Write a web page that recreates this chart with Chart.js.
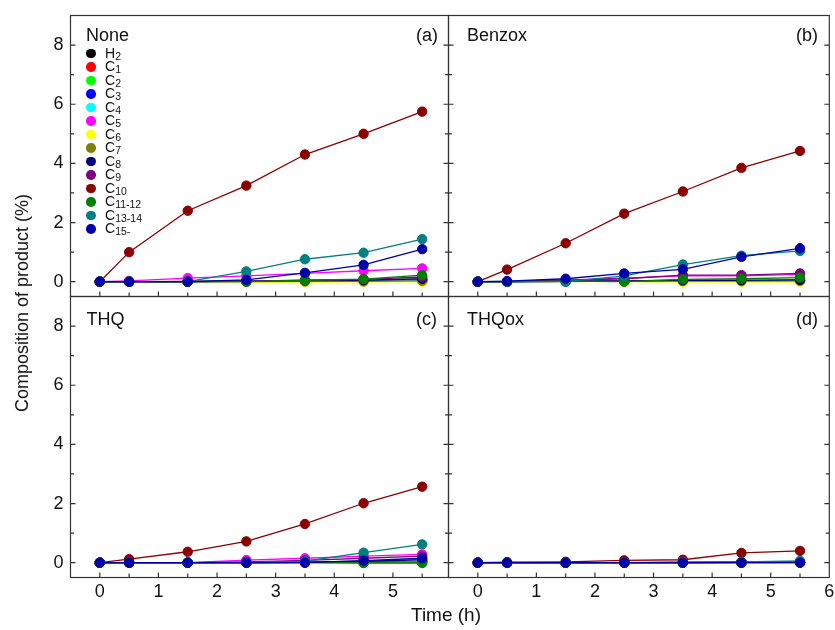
<!DOCTYPE html>
<html>
<head>
<meta charset="utf-8">
<script src="https://cdn.jsdelivr.net/npm/chart.js@4.4.0/dist/chart.umd.min.js"></script>
<style>
  body { margin: 0; background: #fff; }
  #wrap { position: relative; width: 835px; height: 630px; font-family: 'Liberation Sans', Arial, sans-serif; color: #111; }
  #wrap canvas { position: absolute; left: 0; top: 0; }
  .txt { position: absolute; line-height: 1; white-space: nowrap; }
  .lbl { font-size: 18px; transform: translateY(-50%); }
  .lblR { font-size: 18px; transform: translate(-100%, -50%); }
  #legend { position: absolute; left: 86px; top: 46.5px; font-size: 14px; }
  #legend div { height: 13.5px; line-height: 13.5px; position: relative; padding-left: 19px; }
  #legend span.dot { position: absolute; left: 0px; top: 2px; width: 9.5px; height: 9.5px; border-radius: 50%; }
  #legend sub { font-size: 10.5px; vertical-align: -2px; line-height: 0; }
</style>
</head>
<body>
<div id="wrap">
  <canvas id="pA" width="835" height="630"></canvas>
  <canvas id="pB" width="835" height="630"></canvas>
  <canvas id="pC" width="835" height="630"></canvas>
  <canvas id="pD" width="835" height="630"></canvas>

  <div class="txt lbl" style="left:86px; top:34.5px;">None</div>
  <div class="txt lblR" style="left:438px; top:34.5px;">(a)</div>
  <div class="txt lbl" style="left:467px; top:34.5px;">Benzox</div>
  <div class="txt lblR" style="left:818px; top:34.5px;">(b)</div>
  <div class="txt lbl" style="left:86.5px; top:318.5px;">THQ</div>
  <div class="txt lblR" style="left:437px; top:318.5px;">(c)</div>
  <div class="txt lbl" style="left:467px; top:318.5px;">THQox</div>
  <div class="txt lblR" style="left:818px; top:318.5px;">(d)</div>

  <div class="txt" style="left:22px; top:303px; font-size:18px; transform: translate(-50%,-50%) rotate(-90deg);">Composition of product (%)</div>
  <div class="txt" style="left:446px; top:614px; font-size:19px; transform: translate(-50%,-50%);">Time (h)</div>

  <div id="legend"></div>
</div>

<script>
// x values (h)
const times = [0, 0.5, 1.5, 2.5, 3.5, 4.5, 5.5];

// series
const seriesNames = ['H2', 'C1', 'C2', 'C3', 'C4', 'C5', 'C6', 'C7', 'C8', 'C9', 'C10', 'C11-12', 'C13-14', 'C15-'];
const seriesLegend = [['H', '2'], ['C', '1'], ['C', '2'], ['C', '3'], ['C', '4'], ['C', '5'], ['C', '6'], ['C', '7'],
                      ['C', '8'], ['C', '9'], ['C', '10'], ['C', '11-12'], ['C', '13-14'], ['C', '15-']];
const seriesColors = ['#000000', '#FF0000', '#00FF00', '#0000FF', '#00FFFF', '#FF00FF', '#FFFF00', '#808000',
                      '#000080', '#800080', '#8B0000', '#008000', '#008080', '#0000A8'];

// tick values
const xTickValues = [-0.5, 0, 0.5, 1, 1.5, 2, 2.5, 3, 3.5, 4, 4.5, 5, 5.5, 6];
const yTickValues = [0, 1, 2, 3, 4, 5, 6, 7, 8];
const yLabelTicks = [0, 2, 4, 6, 8];

// (a) None
const noneData = [
  [0, 0, 0, 0.01, 0.02, 0.03, 0.05],
  [0, 0, 0.01, 0.01, 0.02, 0.02, 0.03],
  [0, 0, 0, 0.01, 0.01, 0.02, 0.03],
  [0, 0, 0, 0.01, 0.02, 0.02, 0.04],
  [0, 0, 0, 0.01, 0.01, 0.02, 0.03],
  [0, 0.03, 0.12, 0.2, 0.28, 0.37, 0.45],
  [0, 0, 0, -0.01, -0.01, -0.01, 0],
  [0, 0, 0, 0, 0.01, 0.01, 0.03],
  [0, 0, 0, 0.02, 0.04, 0.05, 0.1],
  [0, 0, 0, 0.02, 0.05, 0.08, 0.16],
  [0, 1.0, 2.4, 3.25, 4.3, 5.0, 5.75],
  [0, 0, 0, 0, 0.05, 0.09, 0.22],
  [0, 0, 0, 0.35, 0.76, 0.98, 1.44],
  [0, 0, 0, 0.06, 0.3, 0.57, 1.1]
];

// (b) Benzox
const benzoxData = [
  [0, 0, 0.01, 0.02, 0.03, 0.03, 0.05],
  [0, 0, 0.01, 0.02, 0.03, 0.03, 0.04],
  [0, 0, 0.01, 0.01, 0.02, 0.02, 0.03],
  [0, 0, 0.01, 0.02, 0.03, 0.03, 0.04],
  [0, 0, 0.01, 0.02, 0.02, 0.03, 0.04],
  [0, 0, 0.05, 0.12, 0.2, 0.2, 0.25],
  [0, 0, 0, 0, -0.01, -0.01, -0.01],
  [0, 0, 0.01, 0.01, 0.02, 0.02, 0.03],
  [0, 0, 0.02, 0.03, 0.05, 0.05, 0.06],
  [0, 0, 0.05, 0.1, 0.22, 0.22, 0.28],
  [0, 0.41, 1.3, 2.3, 3.05, 3.85, 4.42],
  [0, 0, 0.02, 0, 0.08, 0.1, 0.14],
  [0, 0, 0, 0.2, 0.58, 0.88, 1.04],
  [0, 0.02, 0.1, 0.28, 0.42, 0.84, 1.13]
];

// (c) THQ
const thqData = [
  [0, 0, 0, 0, 0.01, 0.02, 0.03],
  [0, 0, 0, 0, 0.01, 0.01, 0.02],
  [0, 0, 0, 0, 0.01, 0.01, 0.02],
  [0, 0, 0, 0, 0.01, 0.02, 0.03],
  [0, 0, 0, 0, 0.01, 0.01, 0.02],
  [0, 0, 0, 0.09, 0.15, 0.22, 0.28],
  [0, 0, 0, 0, 0, 0, 0],
  [0, 0, 0, 0, 0, 0, 0.01],
  [0, 0, 0, 0, 0.02, 0.05, 0.1],
  [0, 0, 0, 0.03, 0.08, 0.15, 0.22],
  [0, 0.12, 0.37, 0.72, 1.31, 2.01, 2.57],
  [0, 0, 0, 0, 0, -0.01, -0.01],
  [0, 0, 0, 0, 0.05, 0.34, 0.62],
  [0, 0, 0, 0, 0, 0.07, 0.15]
];

// (d) THQox
const thqoxData = [
  [0, 0, 0, 0, 0, 0.01, 0.01],
  [0, 0, 0, 0, 0, 0, 0.01],
  [0, 0, 0, 0, 0, 0, 0],
  [0, 0, 0, 0, 0, 0.01, 0.01],
  [0, 0, 0, 0, 0, 0, 0.01],
  [0, 0, 0, 0, 0.01, 0.02, 0.03],
  [0, 0, 0, 0, 0, 0, 0],
  [0, 0, 0, 0, 0, 0, 0],
  [0, 0, 0, 0, 0, 0.01, 0.01],
  [0, 0, 0, 0, 0.01, 0.02, 0.02],
  [0, 0.02, 0.03, 0.08, 0.1, 0.33, 0.4],
  [0, 0, 0, 0, 0, 0.01, 0.02],
  [0, 0, 0, 0, 0.02, 0.03, 0.06],
  [0, 0, 0, 0, 0, 0, 0]
];

const FONT = "'Liberation Sans', Arial, sans-serif";
const W = 835, H = 630;

// frame + inward ticks (major on labelled values, minor otherwise)
const framePlugin = {
  id: 'frame',
  afterDatasetsDraw(chart) {
    const {ctx, chartArea: a, scales} = chart;
    ctx.save();
    ctx.strokeStyle = '#333';
    ctx.lineWidth = 1.2;
    ctx.beginPath();
    scales.x.ticks.forEach(t => {
      if (t.value <= scales.x.min || t.value >= scales.x.max) return;
      const px = scales.x.getPixelForValue(t.value);
      const len = Number.isInteger(t.value) ? 5 : 4;
      ctx.moveTo(px, a.bottom);
      ctx.lineTo(px, a.bottom - len);
    });
    scales.y.ticks.forEach(t => {
      if (t.value <= scales.y.min || t.value >= scales.y.max) return;
      const py = scales.y.getPixelForValue(t.value);
      const len = yLabelTicks.includes(t.value) ? 5 : 3.5;
      ctx.moveTo(a.left, py);
      ctx.lineTo(a.left + len, py);
      ctx.moveTo(a.right, py);
      ctx.lineTo(a.right - len, py);
    });
    ctx.stroke();
    ctx.strokeRect(a.left, a.top, a.right - a.left, a.bottom - a.top);
    ctx.restore();
  }
};

function makePanel(id, values, area, xMax, showX, showY) {
  const yW = showY ? 40 : 0;
  const xH = showX ? 30 : 0;
  const datasets = values.map((vals, i) => ({
    label: seriesNames[i],
    data: times.map((t, j) => ({x: t, y: vals[j]})),
    borderColor: seriesColors[i],
    backgroundColor: seriesColors[i],
    pointBackgroundColor: seriesColors[i],
    pointBorderColor: seriesColors[i],
    borderWidth: 1.3,
    pointRadius: 4.7,
    pointBorderWidth: 1,
    order: seriesNames.length - i,
    clip: false
  }));

  new Chart(document.getElementById(id), {
    type: 'line',
    data: {datasets},
    plugins: [framePlugin],
    options: {
      responsive: false,
      animation: false,
      events: [],
      layout: {
        padding: {
          left: area.left - yW,
          right: W - area.right,
          top: area.top,
          bottom: H - area.bottom - xH
        }
      },
      plugins: {legend: {display: false}, tooltip: {enabled: false}},
      scales: {
        x: {
          type: 'linear',
          min: -0.5,
          max: xMax,
          afterFit: s => { s.height = xH; s.paddingLeft = 0; s.paddingRight = 0; },
          afterBuildTicks: s => {
            s.ticks = xTickValues.filter(v => v >= s.min && v <= s.max).map(v => ({value: v}));
          },
          grid: {display: false, drawTicks: false},
          border: {display: false},
          ticks: {
            display: showX,
            autoSkip: false,
            maxRotation: 0,
            padding: 4,
            color: '#111',
            font: {family: FONT, size: 18},
            callback: v => Number.isInteger(v) && v >= 0 ? String(v) : ''
          }
        },
        y: {
          type: 'linear',
          min: -0.5,
          max: 9,
          afterFit: s => { s.width = yW; s.paddingTop = 0; s.paddingBottom = 0; },
          afterBuildTicks: s => {
            s.ticks = yTickValues.map(v => ({value: v}));
          },
          grid: {display: false, drawTicks: false},
          border: {display: false},
          ticks: {
            display: showY,
            autoSkip: false,
            padding: 7,
            color: '#111',
            font: {family: FONT, size: 18},
            callback: v => yLabelTicks.includes(v) ? String(v) : ''
          }
        }
      }
    }
  });
}

const L = 70.5, M = 448.5, R = 829.5;
const T = 15.5, MID = 296.5, B = 577.5;
const unit = (R - M) / 6.5;
const leftMax = -0.5 + (M - L) / unit;

makePanel('pA', noneData,   {left: L, right: M, top: T, bottom: MID}, leftMax, false, true);
makePanel('pB', benzoxData, {left: M, right: R, top: T, bottom: MID}, 6, false, false);
makePanel('pC', thqData,    {left: L, right: M, top: MID, bottom: B}, leftMax, true, true);
makePanel('pD', thqoxData,  {left: M, right: R, top: MID, bottom: B}, 6, true, false);

// legend in panel (a)
const legend = document.getElementById('legend');
seriesLegend.forEach((parts, i) => {
  const row = document.createElement('div');
  row.innerHTML = '<span class="dot" style="background:' + seriesColors[i] + '"></span>' +
    parts[0] + '<sub>' + parts[1] + '</sub>';
  legend.appendChild(row);
});
</script>
</body>
</html>
